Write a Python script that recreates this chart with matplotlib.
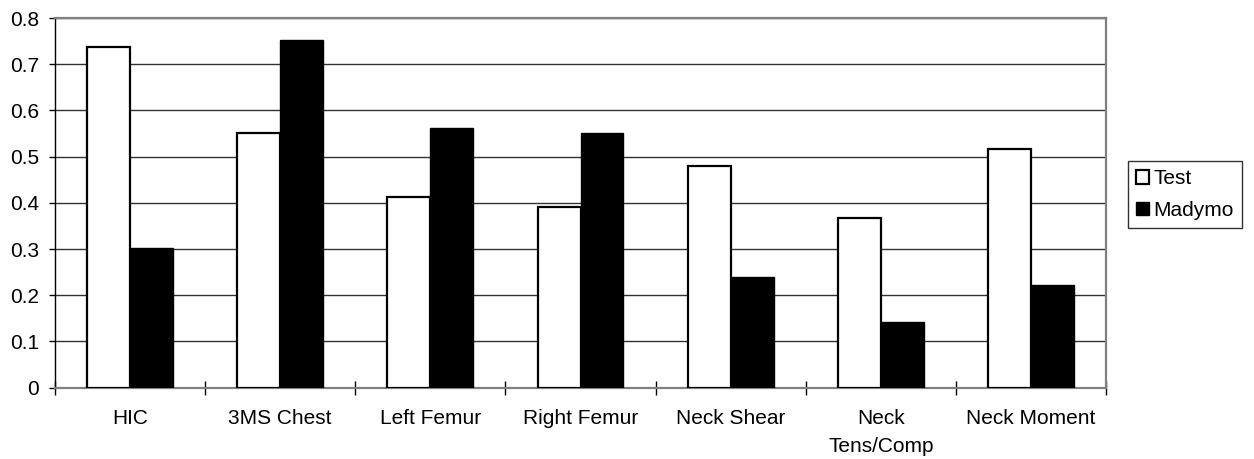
import numpy as np
import matplotlib.pyplot as plt

categories = ["HIC", "3MS Chest", "Left Femur", "Right Femur", "Neck Shear",
              "Neck\nTens/Comp", "Neck Moment"]
test_values = [0.737, 0.551, 0.413, 0.392, 0.479, 0.367, 0.517]
madymo_values = [0.302, 0.752, 0.563, 0.551, 0.240, 0.143, 0.222]
y_ticks = [0, 0.1, 0.2, 0.3, 0.4, 0.5, 0.6, 0.7, 0.8]

plt.rcParams["font.family"] = ["Liberation Sans", "DejaVu Sans"]
plt.rcParams["font.size"] = 15

fig = plt.figure(figsize=(12.54, 4.59), dpi=100)
ax = fig.add_axes([55 / 1254, 1 - 387.7 / 459, (1106 - 55) / 1254, (387.7 - 18) / 459])

x = np.arange(len(categories))
width = 1 / 3.5
ax.bar(x - width / 2, test_values, width, color="white", edgecolor="black",
       linewidth=1.6, label="Test", zorder=3)
ax.bar(x + width / 2, madymo_values, width, color="black", edgecolor="black",
       linewidth=1.0, label="Madymo", zorder=3)

ax.set_xlim(-0.5, len(categories) - 0.5)
ax.set_ylim(0, 0.8)
ax.set_yticks(y_ticks)
ax.set_yticklabels(["0" if v == 0 else f"{v:.1f}" for v in y_ticks])
ax.yaxis.grid(True, color="#333333", linewidth=1.0, zorder=0)

# category labels at centres, tick marks at the boundaries
ax.set_xticks(np.arange(len(categories) + 1) - 0.5)
ax.set_xticklabels([])
ax.set_xticks(x, minor=True)
ax.set_xticklabels(categories, minor=True, va="top", linespacing=1.6)
ax.tick_params(axis="x", which="minor", length=0, pad=15.5)
ax.tick_params(axis="x", which="major", direction="inout", length=9.4, width=1.0)
ax.tick_params(axis="y", direction="out", length=4.3, width=1.0, pad=7)

for side in ["top", "right", "bottom"]:
    ax.spines[side].set_color("#808080")
    ax.spines[side].set_linewidth(1.6)
ax.spines["left"].set_color("black")
ax.spines["left"].set_linewidth(1.0)

leg = ax.legend(loc="center left", bbox_to_anchor=(1128 / 1254, 1 - 194.5 / 459),
                bbox_transform=fig.transFigure, frameon=True, fancybox=False,
                edgecolor="black", borderpad=0.4, handlelength=0.6, handleheight=0.6,
                handletextpad=0.2, labelspacing=0.6, fontsize=15, borderaxespad=0)
leg.get_frame().set_linewidth(1.0)

fig.savefig("out.png", dpi=100)
